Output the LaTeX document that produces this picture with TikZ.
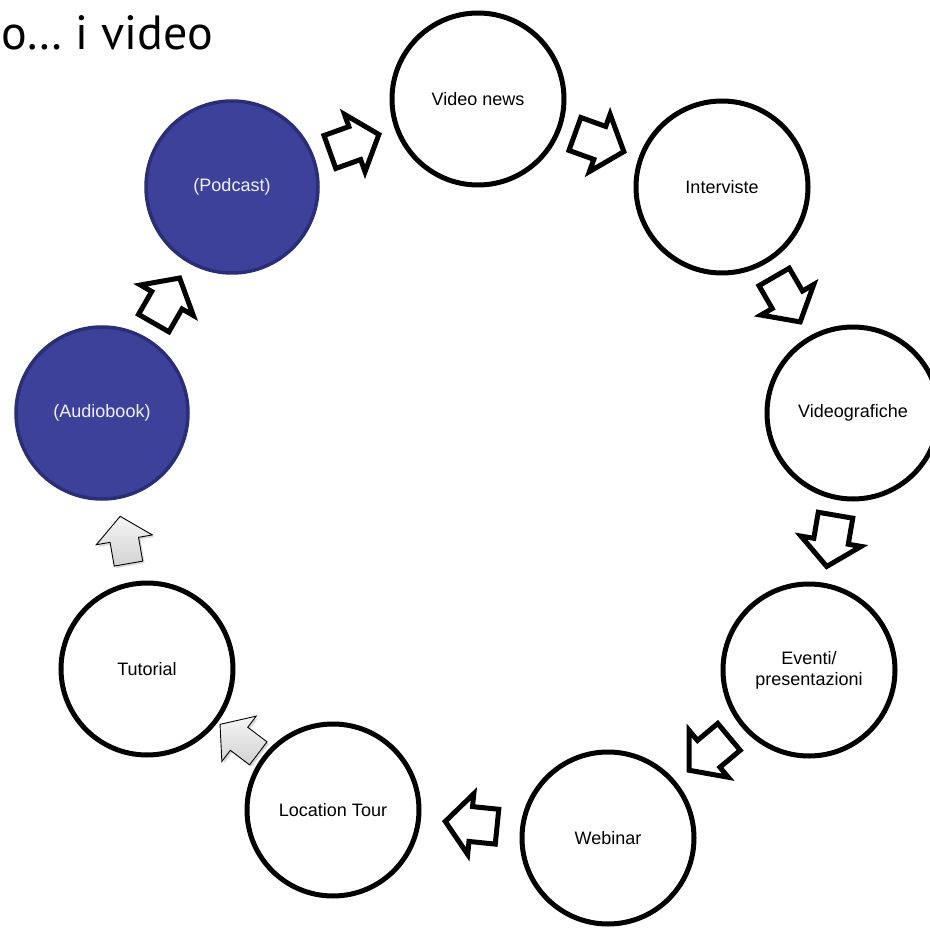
\documentclass[tikz,border=0pt]{standalone}
\usepackage{fontspec}
\setmainfont{Liberation Sans}
\newfontfamily\titlefont{PT Sans}
\usetikzlibrary{shapes.arrows,shadows}
\definecolor{podblue}{RGB}{61,65,154}
\definecolor{podedge}{RGB}{42,46,118}
\tikzset{
 bubble/.style={circle, draw=black, line width=5pt, fill=white, minimum size=172pt, inner sep=0pt, font=\fontsize{18}{21}\selectfont, align=center},
 bluebubble/.style={bubble, draw=podedge, line width=3.5pt, fill=podblue, text=white!94!blue},
 flow/.style={single arrow, draw=black, line width=5pt, fill=white, minimum height=52pt, minimum width=58pt, inner xsep=0pt, inner ysep=15pt, single arrow head extend=13pt, single arrow tip angle=100, sloped, allow upside down, line join=miter, xshift=-8pt},
 grayflow/.style={single arrow, draw=black, line width=0.9pt, top color=gray!8, bottom color=gray!35, minimum height=48pt, minimum width=56pt, inner xsep=0pt, inner ysep=14pt, single arrow head extend=14pt, single arrow tip angle=100, sloped, allow upside down, xshift=-5pt, drop shadow={opacity=0.3, shadow xshift=2pt, shadow yshift=-2pt}}
}
\begin{document}
\begin{tikzpicture}[x=1pt, y=-1pt]
\useasboundingbox (0,0) rectangle (930,928);
\node[font=\titlefont\fontsize{48}{56}\selectfont, anchor=base east, inner sep=0pt] (title) at (213,50) {o… i video};
\node[bluebubble] (pod) at (232,187) {(Podcast)};
\node[bluebubble] (aud) at (102,413) {(Audiobook)};
\node[bubble] (vid) at (478,99) {Video news};
\node[bubble] (int) at (722,187) {Interviste};
\node[bubble] (vgr) at (853,413) {Videografiche};
\node[bubble] (evt) at (809,670) {Eventi/\\presentazioni};
\node[bubble] (web) at (608,838) {Webinar};
\node[bubble] (loc) at (333,810) {Location Tour};
\node[bubble] (tut) at (147,669) {Tutorial};
\path (pod.center) -- node[flow] (a1) {} (vid.center);
\path (vid.center) -- node[flow] (a2) {} (int.center);
\path (int.center) -- node[flow] (a3) {} (vgr.center);
\path (vgr.center) -- node[flow] (a4) {} (evt.center);
\path (evt.center) -- node[flow] (a5) {} (web.center);
\path (web.center) -- node[flow] (a6) {} (loc.center);
\path (loc.center) -- node[grayflow] (a7) {} (tut.center);
\path (tut.center) -- node[grayflow] (a8) {} (aud.center);
\path (aud.center) -- node[flow] (a9) {} (pod.center);
\end{tikzpicture}
\end{document}
